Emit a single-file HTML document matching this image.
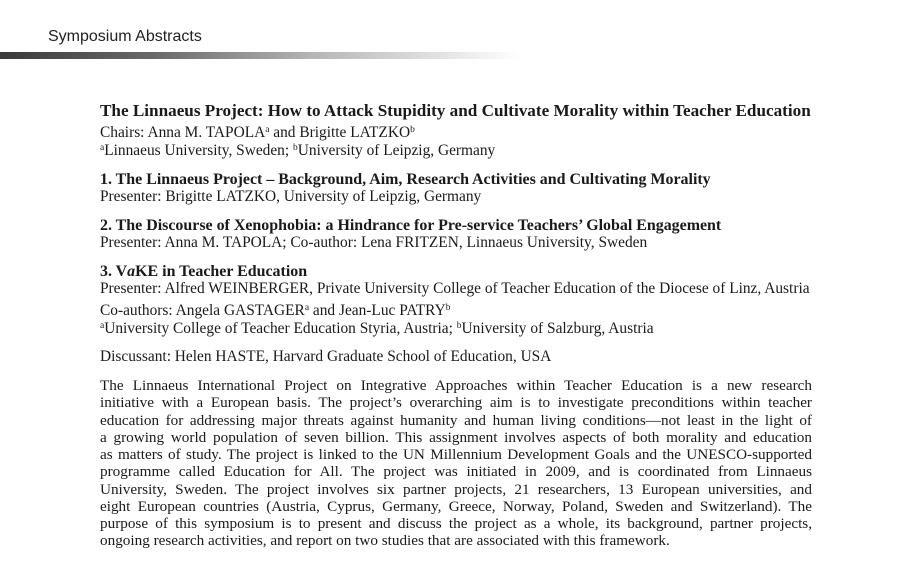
<!DOCTYPE html>
<html><head><meta charset="utf-8"><style>
body{margin:0;width:909px;height:585px;background:#fff;position:relative;overflow:hidden;font-family:"Liberation Serif",serif;color:#1a1a1a}
.h{position:absolute;left:48px;top:28px;font-family:"Liberation Sans",sans-serif;font-size:16px;color:#222}
.bar{position:absolute;left:0;top:52px;width:520px;height:7px;background:linear-gradient(to right,#3a3a3a,#6a6a6a 30%,#b5b5b5 60%,#fff)}
.l{position:absolute;left:100px;font-size:15.4px;line-height:18px;white-space:nowrap}
.b{font-weight:bold;font-size:15.95px}
.t{font-size:17.15px}
.j{width:712px;font-size:15.2px;text-align:justify;text-align-last:justify;white-space:normal}
sup{font-size:9.5px;vertical-align:5px;line-height:0}
</style></head><body>
<div class="h">Symposium Abstracts</div>
<div class="bar"></div>
<div class="l b t" style="top:102px">The Linnaeus Project: How to Attack Stupidity and Cultivate Morality within Teacher Education</div>
<div class="l" style="top:124px">Chairs: Anna M. TAPOLA<sup>a</sup> and Brigitte LATZKO<sup>b</sup></div>
<div class="l" style="top:142px"><sup>a</sup>Linnaeus University, Sweden; <sup>b</sup>University of Leipzig, Germany</div>
<div class="l b" style="top:171px">1. The Linnaeus Project – Background, Aim, Research Activities and Cultivating Morality</div>
<div class="l" style="top:188px">Presenter: Brigitte LATZKO, University of Leipzig, Germany</div>
<div class="l b" style="top:217px">2. The Discourse of Xenophobia: a Hindrance for Pre-service Teachers’ Global Engagement</div>
<div class="l" style="top:234px">Presenter: Anna M. TAPOLA; Co-author: Lena FRITZEN, Linnaeus University, Sweden</div>
<div class="l b" style="top:263px">3. V<i>a</i>KE in Teacher Education</div>
<div class="l" style="top:280px">Presenter: Alfred WEINBERGER, Private University College of Teacher Education of the Diocese of Linz, Austria</div>
<div class="l" style="top:302px">Co-authors: Angela GASTAGER<sup>a</sup> and Jean-Luc PATRY<sup>b</sup></div>
<div class="l" style="top:320px"><sup>a</sup>University College of Teacher Education Styria, Austria; <sup>b</sup>University of Salzburg, Austria</div>
<div class="l" style="top:348px">Discussant: Helen HASTE, Harvard Graduate School of Education, USA</div>
<div class="l j" style="top:377px">The Linnaeus International Project on Integrative Approaches within Teacher Education is a new research</div>
<div class="l j" style="top:394px">initiative with a European basis. The project’s overarching aim is to investigate preconditions within teacher</div>
<div class="l j" style="top:412px">education for addressing major threats against humanity and human living conditions—not least in the light of</div>
<div class="l j" style="top:429px">a growing world population of seven billion. This assignment involves aspects of both morality and education</div>
<div class="l j" style="top:446px">as matters of study. The project is linked to the UN Millennium Development Goals and the UNESCO-supported</div>
<div class="l j" style="top:463px">programme called Education for All. The project was initiated in 2009, and is coordinated from Linnaeus</div>
<div class="l j" style="top:481px">University, Sweden. The project involves six partner projects, 21 researchers, 13 European universities, and</div>
<div class="l j" style="top:498px">eight European countries (Austria, Cyprus, Germany, Greece, Norway, Poland, Sweden and Switzerland). The</div>
<div class="l j" style="top:515px">purpose of this symposium is to present and discuss the project as a whole, its background, partner projects,</div>
<div class="l" style="top:532px;font-size:15.2px">ongoing research activities, and report on two studies that are associated with this framework.</div>
</body></html>
